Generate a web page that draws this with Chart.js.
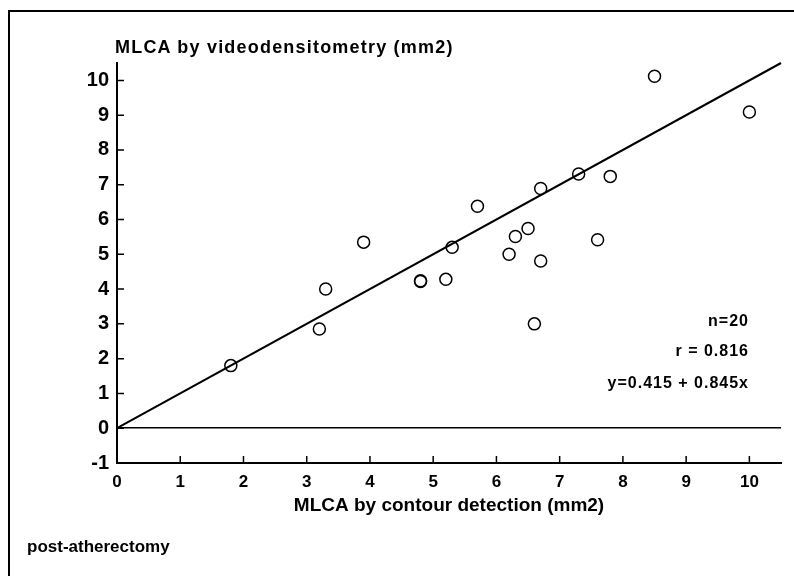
<!DOCTYPE html>
<html>
<head>
<meta charset="utf-8">
<script src="https://cdn.jsdelivr.net/npm/chart.js@4"></script>
<style>
  body { margin: 0; background: #fff; }
  #wrap { position: relative; width: 794px; height: 576px; overflow: hidden; background: #fff; }
  #myScatter { position: absolute; left: 0; top: 0; }
  .frame { position: absolute; left: 8px; top: 10px; width: 820px; height: 600px;
           border-left: 2px solid #000; border-top: 2px solid #000; }
  .txt { position: absolute; font-family: "Liberation Sans", Arial, sans-serif; font-weight: bold; color: #000; white-space: nowrap; }
  #ytitle { left: 115px; top: 37px; font-size: 18px; letter-spacing: 1.2px; }
  .stat { right: 45px; font-size: 16px; letter-spacing: 1px; text-align: right; }
  #note { left: 27px; top: 537px; font-size: 17px; }
</style>
</head>
<body>
<div id="wrap">
  <canvas id="myScatter" width="794" height="576"></canvas>
  <div class="frame"></div>
  <div class="txt" id="ytitle">MLCA by videodensitometry (mm2)</div>
  <div class="txt stat" style="top:312px">n=20</div>
  <div class="txt stat" style="top:342px">r = 0.816</div>
  <div class="txt stat" style="top:374px">y=0.415 + 0.845x</div>
  <div class="txt" id="note">post-atherectomy</div>
</div>
<script>
// MLCA, contour detection (x) vs videodensitometry (y), mm2
const contourMLCA = [1.8, 3.2, 3.3, 3.9, 4.8, 4.8, 5.2, 5.3, 5.7, 6.2, 6.3, 6.5, 6.6, 6.7, 6.7, 7.3, 7.6, 7.8, 8.5, 10.0];
const videoMLCA   = [1.80, 2.85, 4.0, 5.35, 4.24, 4.22, 4.28, 5.2, 6.38, 5.0, 5.51, 5.74, 3.0, 6.89, 4.81, 7.31, 5.42, 7.24, 10.12, 9.09];

// regression line as drawn
const fitX = [0, 10.5];
const fitY = [0, 10.5];

const xTicks = [0, 1, 2, 3, 4, 5, 6, 7, 8, 9, 10];
const yTicks = [-1, 0, 1, 2, 3, 4, 5, 6, 7, 8, 9, 10];

const font = 'Liberation Sans, Arial, sans-serif';

// small ticks pointing into the plot
const innerTicks = {
  id: 'innerTicks',
  afterDraw(chart) {
    const ctx = chart.ctx;
    const xs = chart.scales.x, ys = chart.scales.y;
    const area = chart.chartArea;
    ctx.save();
    ctx.strokeStyle = '#000';
    ctx.lineWidth = 1.5;
    ctx.beginPath();
    xTicks.forEach(v => {
      if (v === 0) return;
      const px = xs.getPixelForValue(v);
      ctx.moveTo(px, area.bottom);
      ctx.lineTo(px, area.bottom - 7);
    });
    yTicks.forEach(v => {
      if (v === -1) return;
      const py = ys.getPixelForValue(v);
      ctx.moveTo(area.left, py);
      ctx.lineTo(area.left + 7, py);
    });
    ctx.stroke();
    ctx.restore();
  }
};

const config = {
  type: 'scatter',
  data: {
    datasets: [
      {
        label: 'fit',
        type: 'line',
        data: fitX.map((x, i) => ({x: x, y: fitY[i]})),
        borderColor: '#000',
        borderWidth: 2,
        pointRadius: 0,
        fill: false
      },
      {
        label: 'MLCA',
        data: contourMLCA.map((x, i) => ({x: x, y: videoMLCA[i]})),
        pointStyle: 'circle',
        pointRadius: 6,
        pointBorderWidth: 1.5,
        pointBorderColor: '#000',
        pointBackgroundColor: 'rgba(255,255,255,0)'
      }
    ]
  },
  options: {
    responsive: false,
    animation: false,
    clip: false,
    layout: { padding: { top: 63, right: 13, bottom: 58, left: 0 } },
    plugins: { legend: { display: false }, tooltip: { enabled: false } },
    scales: {
      x: {
        type: 'linear',
        min: 0,
        max: 10.5,
        afterBuildTicks: s => { s.ticks = xTicks.map(v => ({value: v})); },
        afterFit: s => { s.height = 55; },
        grid: { display: false, drawTicks: false },
        border: { display: true, color: '#000', width: 2 },
        ticks: { color: '#000', padding: 9, font: { family: font, size: 17, weight: 'bold' } },
        title: {
          display: true,
          text: 'MLCA by contour detection (mm2)',
          color: '#000',
          padding: { top: 0, bottom: 1 },
          font: { family: font, size: 19, weight: 'bold' }
        }
      },
      y: {
        type: 'linear',
        min: -1,
        max: 10.5,
        afterBuildTicks: s => { s.ticks = yTicks.map(v => ({value: v})); },
        afterFit: s => { s.width = 117; },
        grid: {
          drawTicks: false,
          lineWidth: 1.5,
          color: c => (c.tick && c.tick.value === 0) ? '#000' : 'rgba(0,0,0,0)'
        },
        border: { display: true, color: '#000', width: 2 },
        ticks: { color: '#000', padding: 8, font: { family: font, size: 20, weight: 'bold' } }
      }
    }
  },
  plugins: [innerTicks]
};

const myChart = new Chart(document.getElementById('myScatter'), config);
</script>
</body>
</html>
